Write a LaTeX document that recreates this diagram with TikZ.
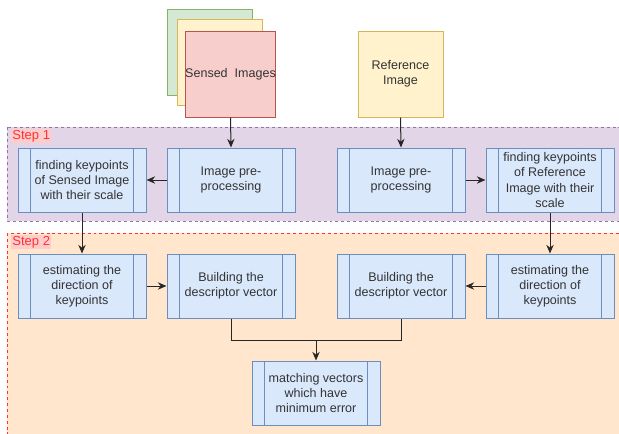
\documentclass[tikz,border=0pt]{standalone}
\usepackage{fontspec}
\setmainfont{Liberation Sans}
\usetikzlibrary{arrows.meta}
\definecolor{procfill}{HTML}{DAE8FC}
\definecolor{procline}{HTML}{6C8EBF}
\definecolor{grnfill}{HTML}{D5E8D4}
\definecolor{grnline}{HTML}{82B366}
\definecolor{ylwfill}{HTML}{FFF2CC}
\definecolor{ylwline}{HTML}{D6B656}
\definecolor{redfill}{HTML}{F8CECC}
\definecolor{redline}{HTML}{B85450}
\definecolor{purfill}{HTML}{E1D5E7}
\definecolor{purline}{HTML}{9673A6}
\definecolor{orgfill}{HTML}{FFE6CC}
\definecolor{orgline}{HTML}{FF3333}
\definecolor{steptext}{HTML}{FF3333}
\definecolor{stepback}{HTML}{FFCCCC}
\definecolor{txt}{HTML}{333333}
\tikzset{
  x=0.75pt, y=-0.75pt,
  every node/.style={font=\fontsize{9.4}{11.4}\selectfont, text=txt, align=center, inner sep=0pt},
  procbox/.style={draw=procline, fill=procfill, line width=0.75pt,
    minimum width=96pt, minimum height=48pt,
    path picture={
      \draw[procline, line width=0.75pt]
        ([xshift=9.6pt]path picture bounding box.north west) -- ([xshift=9.6pt]path picture bounding box.south west)
        ([xshift=-9.6pt]path picture bounding box.north east) -- ([xshift=-9.6pt]path picture bounding box.south east);
    }},
  imgbox/.style={line width=0.75pt, minimum width=63.75pt, minimum height=64.5pt},
  conn/.style={draw=black!85, line width=0.75pt, -{Stealth[length=6.5pt,width=5.5pt]}},
  seg/.style={draw=black!85, line width=0.75pt},
  steplabel/.style={text=steptext, fill=stepback, font=\fontsize{9.8}{11}\selectfont, inner sep=0.8pt, anchor=north west},
  stepframe/.style={dash pattern=on 2.2pt off 2.2pt, line width=0.6pt},
}
\begin{document}
\begin{tikzpicture}
  \useasboundingbox (0,0) rectangle (619,433);
  % step containers
  \draw[stepframe, purline, fill=purfill] (7,127) rectangle (625,221);
  \draw[stepframe, orgline, fill=orgfill] (7,233) rectangle (625,440);
  \node[steplabel] (s1) at (11,129) {Step 1};
  \node[steplabel] (s2) at (11,235) {Step 2};

  % input images
  \node[imgbox, draw=grnline, fill=grnfill] (g) at (209.5,52.5) {};
  \node[imgbox, draw=ylwline, fill=ylwfill] (y) at (220,62.5) {};
  \node[imgbox, draw=redline, fill=redfill] (sensed) at (230.5,74) {Sensed\ \ Images};
  \node[imgbox, draw=ylwline, fill=ylwfill] (ref) at (400.5,74) {Reference\\Image};

  % step 1
  \node[procbox] (fkl) at (82,180) {finding keypoints\\of Sensed Image\\with their scale};
  \node[procbox] (ppl) at (231,180) {Image pre-\\processing};
  \node[procbox] (ppr) at (401,180) {Image pre-\\processing};
  \node[procbox] (fkr) at (550,180) {finding keypoints\\of Reference\\Image with their\\scale};

  % step 2
  \node[procbox] (edl) at (82,286) {estimating the\\direction of\\keypoints};
  \node[procbox] (bdl) at (231,286) {Building the\\descriptor vector};
  \node[procbox] (bdr) at (401,286) {Building the\\descriptor vector};
  \node[procbox] (edr) at (550,286) {estimating the\\direction of\\keypoints};
  \node[procbox] (mv) at (316,393) {matching vectors\\which have\\minimum error};

  \coordinate (join) at (316,340);

  % connectors
  \draw[conn] (sensed.south) -- (ppl.north);
  \draw[conn] (ref.south) -- (ppr.north);
  \draw[conn] (ppl.west) -- (fkl.east);
  \draw[conn] (ppr.east) -- (fkr.west);
  \draw[conn] (fkl.south) -- (edl.north);
  \draw[conn] (fkr.south) -- (edr.north);
  \draw[conn] (edl.east) -- (bdl.west);
  \draw[conn] (edr.west) -- (bdr.east);
  \draw[seg] (bdl.south) |- (join);
  \draw[seg] (bdr.south) |- (join);
  \draw[conn] (join) -- (mv.north);
\end{tikzpicture}
\end{document}
